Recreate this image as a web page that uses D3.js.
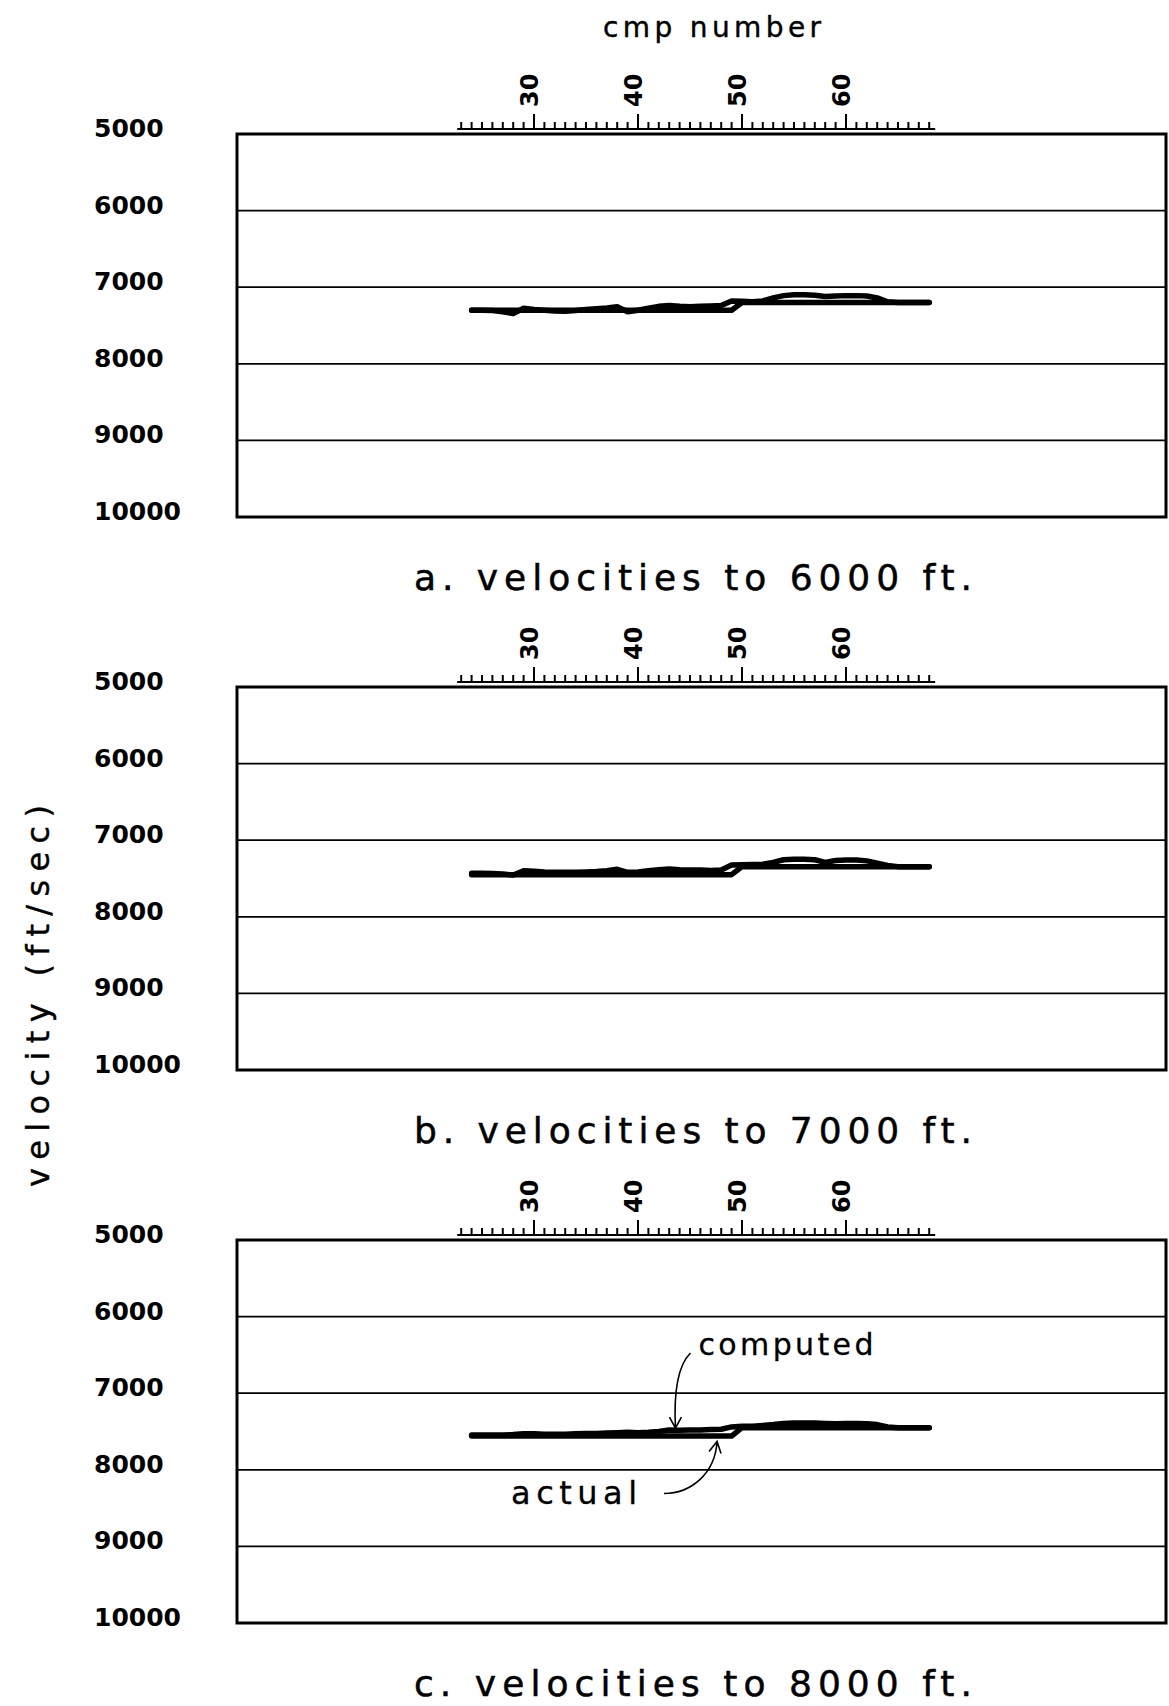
<!DOCTYPE html>
<html><head><meta charset="utf-8">
<script src="https://cdn.jsdelivr.net/npm/d3@7"></script>
<style>body{margin:0;background:#fff}svg{display:block}</style>
</head><body>
<svg id="chart" width="1169" height="1706"></svg>
<script>
// ---------- data ----------
const cmpNumbers = [24,25,26,27,28,29,30,31,32,33,34,35,36,37,38,39,40,41,42,43,44,45,46,47,48,49,50,51,52,53,54,55,56,57,58,59,60,61,62,63,64,65,66,67,68];
const velocityTicks = [5000,6000,7000,8000,9000,10000];
const cmpTickLabels = [30,40,50,60];
const cmpTickStart = 23, cmpTickEnd = 68;
const captions = ["a. velocities to 6000 ft.","b. velocities to 7000 ft.","c. velocities to 8000 ft."];
const xTitle = "cmp number";
const yTitle = "velocity (ft/sec)";

const actualA = [7300,7300,7300,7300,7300,7300,7300,7300,7300,7300,7300,7300,7300,7300,7300,7300,7300,7300,7300,7300,7300,7300,7300,7300,7300,7300,7200,7200,7200,7200,7200,7200,7200,7200,7200,7200,7200,7200,7200,7200,7200,7200,7200,7200,7200];
const computedA = [7300,7300,7305,7320,7345,7275,7290,7300,7310,7315,7305,7290,7280,7270,7255,7320,7300,7275,7250,7240,7250,7255,7250,7245,7240,7180,7185,7190,7180,7140,7110,7100,7100,7105,7120,7115,7110,7110,7115,7140,7190,7200,7200,7200,7200];

const actualB = [7450,7450,7450,7450,7450,7450,7450,7450,7450,7450,7450,7450,7450,7450,7450,7450,7450,7450,7450,7450,7450,7450,7450,7450,7450,7450,7345,7345,7345,7345,7345,7345,7345,7345,7345,7345,7345,7345,7345,7345,7345,7345,7345,7345,7345];
const computedB = [7430,7430,7435,7440,7455,7400,7405,7415,7420,7420,7420,7415,7410,7400,7380,7420,7415,7400,7385,7375,7385,7390,7390,7395,7390,7325,7320,7318,7315,7290,7255,7250,7250,7255,7290,7265,7260,7260,7270,7300,7330,7345,7345,7345,7345];

const actualC = [7560,7560,7560,7560,7560,7560,7560,7560,7560,7560,7560,7560,7560,7560,7560,7560,7560,7560,7560,7560,7560,7560,7560,7560,7560,7560,7450,7450,7450,7450,7450,7450,7450,7450,7450,7450,7450,7450,7450,7450,7450,7450,7450,7450,7450];
const computedC = [7545,7545,7545,7545,7540,7530,7530,7535,7535,7535,7530,7525,7525,7520,7515,7510,7515,7510,7500,7480,7485,7480,7480,7475,7470,7440,7430,7430,7420,7410,7395,7390,7390,7390,7395,7400,7395,7395,7400,7410,7440,7450,7450,7450,7450];

const actualSeries = [actualA, actualB, actualC];
const computedSeries = [computedA, computedB, computedC];

// annotation anchors (panel c), in data units
const annComputed = {text:"computed", cmp:43.6, v:7455};
const annActual = {text:"actual", cmp:47.6, v:7630};

// ---------- layout ----------
const svg = d3.select("#chart");
const boxLeft = 237, boxRight = 1166, boxH = 383;
const panelTops = [134, 687, 1240];
const font = "'DejaVu Sans', sans-serif";

const x = d3.scaleLinear().domain([30, 60]).range([534, 846]);

svg.append("text")
  .attr("x", 603).attr("y", 37)
  .attr("font-family", font).attr("font-size", 28)
  .attr("stroke", "#000").attr("stroke-width", 0.4)
  .attr("textLength", 218).attr("lengthAdjust", "spacing")
  .text(xTitle);

svg.append("text")
  .attr("transform", "translate(49,996) rotate(-90)")
  .attr("text-anchor", "middle")
  .attr("font-family", font).attr("font-size", 32)
  .attr("stroke", "#000").attr("stroke-width", 0.4)
  .attr("textLength", 382).attr("lengthAdjust", "spacing")
  .text(yTitle);

const line = (y) => d3.line().x((d, i) => x(cmpNumbers[i])).y(d => y(d)).curve(d3.curveLinear);

panelTops.forEach((top, pi) => {
  const y = d3.scaleLinear().domain([5000, 10000]).range([top, top + boxH]);
  const g = svg.append("g");

  // gridlines
  g.selectAll("line.grid").data(velocityTicks.slice(1, -1)).join("line")
    .attr("x1", boxLeft).attr("x2", boxRight)
    .attr("y1", d => y(d)).attr("y2", d => y(d))
    .attr("stroke", "#000").attr("stroke-width", 1.7);

  // frame
  g.append("rect")
    .attr("x", boxLeft).attr("y", y(5000))
    .attr("width", boxRight - boxLeft).attr("height", y(10000) - y(5000))
    .attr("fill", "none").attr("stroke", "#000").attr("stroke-width", 3);

  // y labels
  g.selectAll("text.ylab").data(velocityTicks).join("text")
    .attr("x", 94).attr("y", d => y(d) + 3)
    .attr("font-family", font).attr("font-weight", "bold").attr("font-size", 25)
    .text(d => d);

  // top cmp axis
  const base = top - 5;
  const minorTicks = d3.range(cmpTickStart, cmpTickEnd + 1);
  g.append("line")
    .attr("x1", x(cmpTickStart) - 4).attr("x2", x(cmpTickEnd) + 6)
    .attr("y1", base).attr("y2", base)
    .attr("stroke", "#000").attr("stroke-width", 2.2);
  g.selectAll("line.tick").data(minorTicks).join("line")
    .attr("x1", d => x(d)).attr("x2", d => x(d))
    .attr("y1", base)
    .attr("y2", d => base - (d % 10 === 0 ? 15 : 7))
    .attr("stroke", "#000").attr("stroke-width", 2);
  g.selectAll("text.xlab").data(cmpTickLabels).join("text")
    .attr("transform", d => `translate(${x(d) + 4},${top - 27}) rotate(-90)`)
    .attr("font-family", font).attr("font-weight", "bold").attr("font-size", 24)
    .text(d => d);

  // series
  const ln = line(y);
  g.append("path").datum(actualSeries[pi])
    .attr("d", ln).attr("fill", "none").attr("stroke", "#000")
    .attr("stroke-width", 5.5).attr("stroke-linejoin", "round").attr("stroke-linecap", "round");
  g.append("path").datum(computedSeries[pi])
    .attr("d", ln).attr("fill", "none").attr("stroke", "#000")
    .attr("stroke-width", 5.5).attr("stroke-linejoin", "round").attr("stroke-linecap", "round");

  // caption
  g.append("text")
    .attr("x", 414).attr("y", top + 456)
    .attr("font-family", font).attr("font-size", 36)
    .attr("stroke", "#000").attr("stroke-width", 0.5)
    .attr("textLength", 558).attr("lengthAdjust", "spacing")
    .text(captions[pi]);

  // annotations on panel c
  if (pi === 2) {
    const tc = [x(annComputed.cmp), y(annComputed.v)];
    g.append("text").attr("x", tc[0] + 23).attr("y", tc[1] - 73)
      .attr("font-family", font).attr("font-size", 30)
      .attr("stroke", "#000").attr("stroke-width", 0.3)
      .attr("textLength", 175).attr("lengthAdjust", "spacing")
      .text(annComputed.text);
    g.append("path")
      .attr("d", `M${tc[0]+15},${tc[1]-75} C${tc[0]+4},${tc[1]-64} ${tc[0]-2},${tc[1]-40} ${tc[0]},${tc[1]}`
        + ` M${tc[0]-6},${tc[1]-11} L${tc[0]},${tc[1]} L${tc[0]+6},${tc[1]-11}`)
      .attr("fill", "none").attr("stroke", "#000").attr("stroke-width", 1.6);

    const ta = [x(annActual.cmp), y(annActual.v)];
    g.append("text").attr("x", ta[0] - 206).attr("y", ta[1] + 63)
      .attr("font-family", font).attr("font-size", 32)
      .attr("stroke", "#000").attr("stroke-width", 0.3)
      .attr("textLength", 126).attr("lengthAdjust", "spacing")
      .text(annActual.text);
    g.append("path")
      .attr("d", `M${ta[0]-53},${ta[1]+52} C${ta[0]-27},${ta[1]+52} ${ta[0]-2},${ta[1]+33} ${ta[0]},${ta[1]}`
        + ` M${ta[0]-8},${ta[1]+10} L${ta[0]},${ta[1]} L${ta[0]+4},${ta[1]+12}`)
      .attr("fill", "none").attr("stroke", "#000").attr("stroke-width", 1.6);
  }
});
</script>
</body></html>
